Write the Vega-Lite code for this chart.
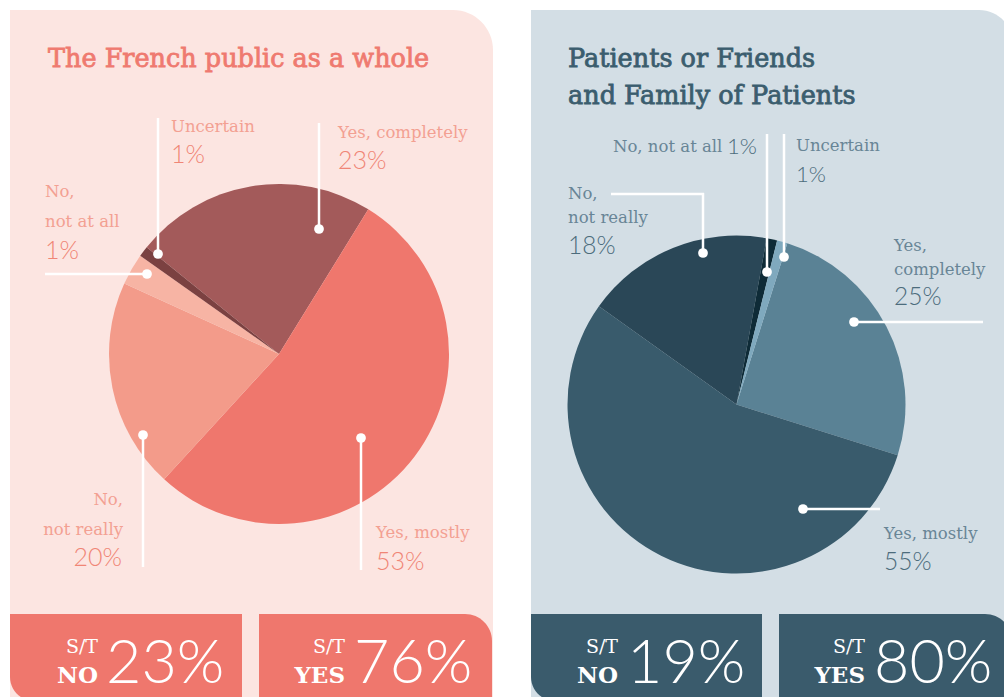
{
"$schema":"https://vega.github.io/schema/vega-lite/v6.json",
"width":1004,"height":697,
"autosize":{"type":"fit","contains":"padding"},
"padding":0,
"background":"white",
"config":{"view":{"stroke":null}},
"datasets":{
"one":[{}],
"slices":[
{"panel":"public","cat":"Yes, completely","value":23,"ord":1},
{"panel":"public","cat":"Yes, mostly","value":53,"ord":2},
{"panel":"public","cat":"No, not really","value":20,"ord":3},
{"panel":"public","cat":"No, not at all","value":3,"ord":4},
{"panel":"public","cat":"Uncertain","value":1,"ord":5},
{"panel":"patients","cat":"Yes, completely","value":25,"ord":1},
{"panel":"patients","cat":"Yes, mostly","value":55,"ord":2},
{"panel":"patients","cat":"No, not really","value":18,"ord":3},
{"panel":"patients","cat":"No, not at all","value":1,"ord":4},
{"panel":"patients","cat":"Uncertain","value":1,"ord":5}
]},
"data":{"name":"one"},
"resolve":{"scale":{"theta":"independent","color":"independent"}},
"layer":[
{"mark":{"type":"rect","fill":"#FCE5E1","cornerRadiusTopRight":40,"clip":true},"encoding":{"x":{"datum":10,"type":"quantitative","scale":{"domain":[0,1004],"nice":false,"zero":false},"axis":null},"x2":{"datum":493},"y":{"datum":10,"type":"quantitative","scale":{"domain":[0,697],"nice":false,"zero":false,"reverse":true},"axis":null},"y2":{"datum":697}}},
{"mark":{"type":"rect","fill":"#D3DEE5","cornerRadiusTopRight":34,"clip":true},"encoding":{"x":{"datum":531,"type":"quantitative","scale":{"domain":[0,1004],"nice":false,"zero":false},"axis":null},"x2":{"datum":1013},"y":{"datum":10,"type":"quantitative","scale":{"domain":[0,697],"nice":false,"zero":false,"reverse":true},"axis":null},"y2":{"datum":697}}},
{"mark":{"type":"rect","fill":"#EF776D","cornerRadiusBottomLeft":24,"clip":true},"encoding":{"x":{"datum":10,"type":"quantitative","scale":{"domain":[0,1004],"nice":false,"zero":false},"axis":null},"x2":{"datum":242},"y":{"datum":614,"type":"quantitative","scale":{"domain":[0,697],"nice":false,"zero":false,"reverse":true},"axis":null},"y2":{"datum":701}}},
{"mark":{"type":"rect","fill":"#EF776D","cornerRadiusTopRight":27,"clip":true},"encoding":{"x":{"datum":259,"type":"quantitative","scale":{"domain":[0,1004],"nice":false,"zero":false},"axis":null},"x2":{"datum":492},"y":{"datum":614,"type":"quantitative","scale":{"domain":[0,697],"nice":false,"zero":false,"reverse":true},"axis":null},"y2":{"datum":697}}},
{"mark":{"type":"rect","fill":"#3A5B6C","cornerRadiusBottomLeft":24,"clip":true},"encoding":{"x":{"datum":531,"type":"quantitative","scale":{"domain":[0,1004],"nice":false,"zero":false},"axis":null},"x2":{"datum":762},"y":{"datum":614,"type":"quantitative","scale":{"domain":[0,697],"nice":false,"zero":false,"reverse":true},"axis":null},"y2":{"datum":701}}},
{"mark":{"type":"rect","fill":"#3A5B6C","cornerRadiusTopRight":27,"clip":true},"encoding":{"x":{"datum":779,"type":"quantitative","scale":{"domain":[0,1004],"nice":false,"zero":false},"axis":null},"x2":{"datum":1012},"y":{"datum":614,"type":"quantitative","scale":{"domain":[0,697],"nice":false,"zero":false,"reverse":true},"axis":null},"y2":{"datum":697}}},
{"data":{"name":"slices"},"transform":[{"filter":"datum.panel === 'public'"}],"mark":{"type":"arc","radius":170},"encoding":{"x":{"datum":279,"type":"quantitative","scale":{"domain":[0,1004],"nice":false,"zero":false},"axis":null},"y":{"datum":354,"type":"quantitative","scale":{"domain":[0,697],"nice":false,"zero":false,"reverse":true},"axis":null},"theta":{"field":"value","type":"quantitative","stack":true,"scale":{"range":[-0.892,5.391]}},"color":{"field":"cat","type":"nominal","scale":{"domain":["Yes, completely","Yes, mostly","No, not really","No, not at all","Uncertain"],"range":["#A35A5A","#EF776D","#F39B8A","#F7B4A4","#7B4141"]},"legend":null},"order":{"field":"ord","type":"quantitative"}}},
{"data":{"name":"slices"},"transform":[{"filter":"datum.panel === 'patients'"}],"mark":{"type":"arc","radius":169},"encoding":{"x":{"datum":736.5,"type":"quantitative","scale":{"domain":[0,1004],"nice":false,"zero":false},"axis":null},"y":{"datum":404.5,"type":"quantitative","scale":{"domain":[0,697],"nice":false,"zero":false,"reverse":true},"axis":null},"theta":{"field":"value","type":"quantitative","stack":true,"scale":{"range":[0.3054,6.5886]}},"color":{"field":"cat","type":"nominal","scale":{"domain":["Yes, completely","Yes, mostly","No, not really","No, not at all","Uncertain"],"range":["#5A8295","#395B6C","#2A4757","#0E2B37","#7FA9BE"]},"legend":null},"order":{"field":"ord","type":"quantitative"}}},

{"mark":{"type":"rule","color":"white","strokeWidth":2.5},"encoding":{"x":{"datum":158,"type":"quantitative","scale":{"domain":[0,1004],"nice":false,"zero":false},"axis":null},"y":{"datum":118,"type":"quantitative","scale":{"domain":[0,697],"nice":false,"zero":false,"reverse":true},"axis":null},"y2":{"datum":254}}},
{"mark":{"type":"rule","color":"white","strokeWidth":2.5},"encoding":{"x":{"datum":319,"type":"quantitative","scale":{"domain":[0,1004],"nice":false,"zero":false},"axis":null},"y":{"datum":123,"type":"quantitative","scale":{"domain":[0,697],"nice":false,"zero":false,"reverse":true},"axis":null},"y2":{"datum":229}}},
{"mark":{"type":"rule","color":"white","strokeWidth":2.5},"encoding":{"x":{"datum":45,"type":"quantitative","scale":{"domain":[0,1004],"nice":false,"zero":false},"axis":null},"x2":{"datum":147},"y":{"datum":274,"type":"quantitative","scale":{"domain":[0,697],"nice":false,"zero":false,"reverse":true},"axis":null}}},
{"mark":{"type":"rule","color":"white","strokeWidth":2.5},"encoding":{"x":{"datum":143,"type":"quantitative","scale":{"domain":[0,1004],"nice":false,"zero":false},"axis":null},"y":{"datum":435,"type":"quantitative","scale":{"domain":[0,697],"nice":false,"zero":false,"reverse":true},"axis":null},"y2":{"datum":567}}},
{"mark":{"type":"rule","color":"white","strokeWidth":2.5},"encoding":{"x":{"datum":361,"type":"quantitative","scale":{"domain":[0,1004],"nice":false,"zero":false},"axis":null},"y":{"datum":438,"type":"quantitative","scale":{"domain":[0,697],"nice":false,"zero":false,"reverse":true},"axis":null},"y2":{"datum":570}}},
{"mark":{"type":"rule","color":"white","strokeWidth":2.5},"encoding":{"x":{"datum":767,"type":"quantitative","scale":{"domain":[0,1004],"nice":false,"zero":false},"axis":null},"y":{"datum":134,"type":"quantitative","scale":{"domain":[0,697],"nice":false,"zero":false,"reverse":true},"axis":null},"y2":{"datum":272}}},
{"mark":{"type":"rule","color":"white","strokeWidth":2.5},"encoding":{"x":{"datum":784,"type":"quantitative","scale":{"domain":[0,1004],"nice":false,"zero":false},"axis":null},"y":{"datum":134,"type":"quantitative","scale":{"domain":[0,697],"nice":false,"zero":false,"reverse":true},"axis":null},"y2":{"datum":257}}},
{"mark":{"type":"rule","color":"white","strokeWidth":2.5},"encoding":{"x":{"datum":611,"type":"quantitative","scale":{"domain":[0,1004],"nice":false,"zero":false},"axis":null},"x2":{"datum":704},"y":{"datum":194,"type":"quantitative","scale":{"domain":[0,697],"nice":false,"zero":false,"reverse":true},"axis":null}}},
{"mark":{"type":"rule","color":"white","strokeWidth":2.5},"encoding":{"x":{"datum":703,"type":"quantitative","scale":{"domain":[0,1004],"nice":false,"zero":false},"axis":null},"y":{"datum":193,"type":"quantitative","scale":{"domain":[0,697],"nice":false,"zero":false,"reverse":true},"axis":null},"y2":{"datum":253}}},
{"mark":{"type":"rule","color":"white","strokeWidth":2.5},"encoding":{"x":{"datum":854,"type":"quantitative","scale":{"domain":[0,1004],"nice":false,"zero":false},"axis":null},"x2":{"datum":983},"y":{"datum":322,"type":"quantitative","scale":{"domain":[0,697],"nice":false,"zero":false,"reverse":true},"axis":null}}},
{"mark":{"type":"rule","color":"white","strokeWidth":2.5},"encoding":{"x":{"datum":803,"type":"quantitative","scale":{"domain":[0,1004],"nice":false,"zero":false},"axis":null},"x2":{"datum":880},"y":{"datum":509,"type":"quantitative","scale":{"domain":[0,697],"nice":false,"zero":false,"reverse":true},"axis":null}}},

{"mark":{"type":"point","filled":true,"color":"white","opacity":1,"size":95},"encoding":{"x":{"datum":158,"type":"quantitative","scale":{"domain":[0,1004],"nice":false,"zero":false},"axis":null},"y":{"datum":254,"type":"quantitative","scale":{"domain":[0,697],"nice":false,"zero":false,"reverse":true},"axis":null}}},
{"mark":{"type":"point","filled":true,"color":"white","opacity":1,"size":95},"encoding":{"x":{"datum":319,"type":"quantitative","scale":{"domain":[0,1004],"nice":false,"zero":false},"axis":null},"y":{"datum":229,"type":"quantitative","scale":{"domain":[0,697],"nice":false,"zero":false,"reverse":true},"axis":null}}},
{"mark":{"type":"point","filled":true,"color":"white","opacity":1,"size":95},"encoding":{"x":{"datum":147,"type":"quantitative","scale":{"domain":[0,1004],"nice":false,"zero":false},"axis":null},"y":{"datum":274,"type":"quantitative","scale":{"domain":[0,697],"nice":false,"zero":false,"reverse":true},"axis":null}}},
{"mark":{"type":"point","filled":true,"color":"white","opacity":1,"size":95},"encoding":{"x":{"datum":143,"type":"quantitative","scale":{"domain":[0,1004],"nice":false,"zero":false},"axis":null},"y":{"datum":435,"type":"quantitative","scale":{"domain":[0,697],"nice":false,"zero":false,"reverse":true},"axis":null}}},
{"mark":{"type":"point","filled":true,"color":"white","opacity":1,"size":95},"encoding":{"x":{"datum":361,"type":"quantitative","scale":{"domain":[0,1004],"nice":false,"zero":false},"axis":null},"y":{"datum":438,"type":"quantitative","scale":{"domain":[0,697],"nice":false,"zero":false,"reverse":true},"axis":null}}},
{"mark":{"type":"point","filled":true,"color":"white","opacity":1,"size":95},"encoding":{"x":{"datum":767,"type":"quantitative","scale":{"domain":[0,1004],"nice":false,"zero":false},"axis":null},"y":{"datum":272,"type":"quantitative","scale":{"domain":[0,697],"nice":false,"zero":false,"reverse":true},"axis":null}}},
{"mark":{"type":"point","filled":true,"color":"white","opacity":1,"size":95},"encoding":{"x":{"datum":784,"type":"quantitative","scale":{"domain":[0,1004],"nice":false,"zero":false},"axis":null},"y":{"datum":257,"type":"quantitative","scale":{"domain":[0,697],"nice":false,"zero":false,"reverse":true},"axis":null}}},
{"mark":{"type":"point","filled":true,"color":"white","opacity":1,"size":95},"encoding":{"x":{"datum":703,"type":"quantitative","scale":{"domain":[0,1004],"nice":false,"zero":false},"axis":null},"y":{"datum":253,"type":"quantitative","scale":{"domain":[0,697],"nice":false,"zero":false,"reverse":true},"axis":null}}},
{"mark":{"type":"point","filled":true,"color":"white","opacity":1,"size":95},"encoding":{"x":{"datum":854,"type":"quantitative","scale":{"domain":[0,1004],"nice":false,"zero":false},"axis":null},"y":{"datum":322,"type":"quantitative","scale":{"domain":[0,697],"nice":false,"zero":false,"reverse":true},"axis":null}}},
{"mark":{"type":"point","filled":true,"color":"white","opacity":1,"size":95},"encoding":{"x":{"datum":803,"type":"quantitative","scale":{"domain":[0,1004],"nice":false,"zero":false},"axis":null},"y":{"datum":509,"type":"quantitative","scale":{"domain":[0,697],"nice":false,"zero":false,"reverse":true},"axis":null}}},

{"mark":{"type":"text","font":"DejaVu Serif","fontSize":25.5,"fill":"#EF7A70","stroke":"#EF7A70","strokeWidth":0.8,"align":"left","baseline":"alphabetic"},"encoding":{"x":{"datum":48,"type":"quantitative","scale":{"domain":[0,1004],"nice":false,"zero":false},"axis":null},"y":{"datum":67,"type":"quantitative","scale":{"domain":[0,697],"nice":false,"zero":false,"reverse":true},"axis":null},"text":{"value":"The French public as a whole"}}},
{"mark":{"type":"text","font":"DejaVu Serif","fontSize":25.5,"fill":"#3B5D6E","stroke":"#3B5D6E","strokeWidth":0.8,"align":"left","baseline":"alphabetic","lineHeight":37},"encoding":{"x":{"datum":568,"type":"quantitative","scale":{"domain":[0,1004],"nice":false,"zero":false},"axis":null},"y":{"datum":67,"type":"quantitative","scale":{"domain":[0,697],"nice":false,"zero":false,"reverse":true},"axis":null},"text":{"value":["Patients or Friends","and Family of Patients"]}}},

{"mark":{"type":"text","font":"DejaVu Serif","fontSize":16.5,"fill":"#F3A092","align":"left","baseline":"alphabetic"},"encoding":{"x":{"datum":171,"type":"quantitative","scale":{"domain":[0,1004],"nice":false,"zero":false},"axis":null},"y":{"datum":132,"type":"quantitative","scale":{"domain":[0,697],"nice":false,"zero":false,"reverse":true},"axis":null},"text":{"value":"Uncertain"}}},
{"mark":{"type":"text","font":"Lato","fontWeight":300,"fontSize":25,"fill":"#F08576","align":"left","baseline":"alphabetic"},"encoding":{"x":{"datum":171,"type":"quantitative","scale":{"domain":[0,1004],"nice":false,"zero":false},"axis":null},"y":{"datum":163,"type":"quantitative","scale":{"domain":[0,697],"nice":false,"zero":false,"reverse":true},"axis":null},"text":{"value":"1%"}}},
{"mark":{"type":"text","font":"DejaVu Serif","fontSize":16.5,"fill":"#F3A092","align":"left","baseline":"alphabetic"},"encoding":{"x":{"datum":338,"type":"quantitative","scale":{"domain":[0,1004],"nice":false,"zero":false},"axis":null},"y":{"datum":138,"type":"quantitative","scale":{"domain":[0,697],"nice":false,"zero":false,"reverse":true},"axis":null},"text":{"value":"Yes, completely"}}},
{"mark":{"type":"text","font":"Lato","fontWeight":300,"fontSize":25,"fill":"#F08576","align":"left","baseline":"alphabetic"},"encoding":{"x":{"datum":338,"type":"quantitative","scale":{"domain":[0,1004],"nice":false,"zero":false},"axis":null},"y":{"datum":169,"type":"quantitative","scale":{"domain":[0,697],"nice":false,"zero":false,"reverse":true},"axis":null},"text":{"value":"23%"}}},
{"mark":{"type":"text","font":"DejaVu Serif","fontSize":16.5,"fill":"#F3A092","align":"left","baseline":"alphabetic","lineHeight":30},"encoding":{"x":{"datum":45,"type":"quantitative","scale":{"domain":[0,1004],"nice":false,"zero":false},"axis":null},"y":{"datum":197,"type":"quantitative","scale":{"domain":[0,697],"nice":false,"zero":false,"reverse":true},"axis":null},"text":{"value":["No,","not at all"]}}},
{"mark":{"type":"text","font":"Lato","fontWeight":300,"fontSize":25,"fill":"#F08576","align":"left","baseline":"alphabetic"},"encoding":{"x":{"datum":45,"type":"quantitative","scale":{"domain":[0,1004],"nice":false,"zero":false},"axis":null},"y":{"datum":259,"type":"quantitative","scale":{"domain":[0,697],"nice":false,"zero":false,"reverse":true},"axis":null},"text":{"value":"1%"}}},
{"mark":{"type":"text","font":"DejaVu Serif","fontSize":16.5,"fill":"#F3A092","align":"right","baseline":"alphabetic","lineHeight":29.5},"encoding":{"x":{"datum":123,"type":"quantitative","scale":{"domain":[0,1004],"nice":false,"zero":false},"axis":null},"y":{"datum":505,"type":"quantitative","scale":{"domain":[0,697],"nice":false,"zero":false,"reverse":true},"axis":null},"text":{"value":["No,","not really"]}}},
{"mark":{"type":"text","font":"Lato","fontWeight":300,"fontSize":25,"fill":"#F08576","align":"right","baseline":"alphabetic"},"encoding":{"x":{"datum":122,"type":"quantitative","scale":{"domain":[0,1004],"nice":false,"zero":false},"axis":null},"y":{"datum":566,"type":"quantitative","scale":{"domain":[0,697],"nice":false,"zero":false,"reverse":true},"axis":null},"text":{"value":"20%"}}},
{"mark":{"type":"text","font":"DejaVu Serif","fontSize":16.5,"fill":"#F3A092","align":"left","baseline":"alphabetic"},"encoding":{"x":{"datum":376,"type":"quantitative","scale":{"domain":[0,1004],"nice":false,"zero":false},"axis":null},"y":{"datum":538,"type":"quantitative","scale":{"domain":[0,697],"nice":false,"zero":false,"reverse":true},"axis":null},"text":{"value":"Yes, mostly"}}},
{"mark":{"type":"text","font":"Lato","fontWeight":300,"fontSize":25,"fill":"#F08576","align":"left","baseline":"alphabetic"},"encoding":{"x":{"datum":376,"type":"quantitative","scale":{"domain":[0,1004],"nice":false,"zero":false},"axis":null},"y":{"datum":570,"type":"quantitative","scale":{"domain":[0,697],"nice":false,"zero":false,"reverse":true},"axis":null},"text":{"value":"53%"}}},

{"mark":{"type":"text","font":"DejaVu Serif","fontSize":16.5,"fill":"#688596","align":"left","baseline":"alphabetic"},"encoding":{"x":{"datum":613,"type":"quantitative","scale":{"domain":[0,1004],"nice":false,"zero":false},"axis":null},"y":{"datum":152,"type":"quantitative","scale":{"domain":[0,697],"nice":false,"zero":false,"reverse":true},"axis":null},"text":{"value":"No, not at all"}}},
{"mark":{"type":"text","font":"Lato","fontWeight":300,"fontSize":22,"fill":"#4C6C7C","align":"left","baseline":"alphabetic"},"encoding":{"x":{"datum":727,"type":"quantitative","scale":{"domain":[0,1004],"nice":false,"zero":false},"axis":null},"y":{"datum":154,"type":"quantitative","scale":{"domain":[0,697],"nice":false,"zero":false,"reverse":true},"axis":null},"text":{"value":"1%"}}},
{"mark":{"type":"text","font":"DejaVu Serif","fontSize":16.5,"fill":"#688596","align":"left","baseline":"alphabetic"},"encoding":{"x":{"datum":796,"type":"quantitative","scale":{"domain":[0,1004],"nice":false,"zero":false},"axis":null},"y":{"datum":151,"type":"quantitative","scale":{"domain":[0,697],"nice":false,"zero":false,"reverse":true},"axis":null},"text":{"value":"Uncertain"}}},
{"mark":{"type":"text","font":"Lato","fontWeight":300,"fontSize":22,"fill":"#4C6C7C","align":"left","baseline":"alphabetic"},"encoding":{"x":{"datum":796,"type":"quantitative","scale":{"domain":[0,1004],"nice":false,"zero":false},"axis":null},"y":{"datum":182,"type":"quantitative","scale":{"domain":[0,697],"nice":false,"zero":false,"reverse":true},"axis":null},"text":{"value":"1%"}}},
{"mark":{"type":"text","font":"DejaVu Serif","fontSize":16.5,"fill":"#688596","align":"left","baseline":"alphabetic","lineHeight":23.5},"encoding":{"x":{"datum":568,"type":"quantitative","scale":{"domain":[0,1004],"nice":false,"zero":false},"axis":null},"y":{"datum":199,"type":"quantitative","scale":{"domain":[0,697],"nice":false,"zero":false,"reverse":true},"axis":null},"text":{"value":["No,","not really"]}}},
{"mark":{"type":"text","font":"Lato","fontWeight":300,"fontSize":24.5,"fill":"#4C6C7C","align":"left","baseline":"alphabetic"},"encoding":{"x":{"datum":568,"type":"quantitative","scale":{"domain":[0,1004],"nice":false,"zero":false},"axis":null},"y":{"datum":254,"type":"quantitative","scale":{"domain":[0,697],"nice":false,"zero":false,"reverse":true},"axis":null},"text":{"value":"18%"}}},
{"mark":{"type":"text","font":"DejaVu Serif","fontSize":16.5,"fill":"#688596","align":"left","baseline":"alphabetic","lineHeight":24},"encoding":{"x":{"datum":894,"type":"quantitative","scale":{"domain":[0,1004],"nice":false,"zero":false},"axis":null},"y":{"datum":251,"type":"quantitative","scale":{"domain":[0,697],"nice":false,"zero":false,"reverse":true},"axis":null},"text":{"value":["Yes,","completely"]}}},
{"mark":{"type":"text","font":"Lato","fontWeight":300,"fontSize":24.5,"fill":"#4C6C7C","align":"left","baseline":"alphabetic"},"encoding":{"x":{"datum":894,"type":"quantitative","scale":{"domain":[0,1004],"nice":false,"zero":false},"axis":null},"y":{"datum":305,"type":"quantitative","scale":{"domain":[0,697],"nice":false,"zero":false,"reverse":true},"axis":null},"text":{"value":"25%"}}},
{"mark":{"type":"text","font":"DejaVu Serif","fontSize":16.5,"fill":"#688596","align":"left","baseline":"alphabetic"},"encoding":{"x":{"datum":884,"type":"quantitative","scale":{"domain":[0,1004],"nice":false,"zero":false},"axis":null},"y":{"datum":539,"type":"quantitative","scale":{"domain":[0,697],"nice":false,"zero":false,"reverse":true},"axis":null},"text":{"value":"Yes, mostly"}}},
{"mark":{"type":"text","font":"Lato","fontWeight":300,"fontSize":24.5,"fill":"#4C6C7C","align":"left","baseline":"alphabetic"},"encoding":{"x":{"datum":884,"type":"quantitative","scale":{"domain":[0,1004],"nice":false,"zero":false},"axis":null},"y":{"datum":570,"type":"quantitative","scale":{"domain":[0,697],"nice":false,"zero":false,"reverse":true},"axis":null},"text":{"value":"55%"}}},

{"mark":{"type":"text","font":"DejaVu Serif","fontSize":19,"fill":"white","align":"right","baseline":"alphabetic"},"encoding":{"x":{"datum":98,"type":"quantitative","scale":{"domain":[0,1004],"nice":false,"zero":false},"axis":null},"y":{"datum":653,"type":"quantitative","scale":{"domain":[0,697],"nice":false,"zero":false,"reverse":true},"axis":null},"text":{"value":"S/T"}}},
{"mark":{"type":"text","font":"DejaVu Serif","fontWeight":"bold","fontSize":23,"fill":"white","align":"right","baseline":"alphabetic"},"encoding":{"x":{"datum":98,"type":"quantitative","scale":{"domain":[0,1004],"nice":false,"zero":false},"axis":null},"y":{"datum":683,"type":"quantitative","scale":{"domain":[0,697],"nice":false,"zero":false,"reverse":true},"axis":null},"text":{"value":"NO"}}},
{"mark":{"type":"text","font":"Lato","fontWeight":300,"fontSize":61,"fill":"white","align":"left","baseline":"alphabetic"},"encoding":{"x":{"datum":106,"type":"quantitative","scale":{"domain":[0,1004],"nice":false,"zero":false},"axis":null},"y":{"datum":683,"type":"quantitative","scale":{"domain":[0,697],"nice":false,"zero":false,"reverse":true},"axis":null},"text":{"value":"23%"}}},
{"mark":{"type":"text","font":"DejaVu Serif","fontSize":19,"fill":"white","align":"right","baseline":"alphabetic"},"encoding":{"x":{"datum":345,"type":"quantitative","scale":{"domain":[0,1004],"nice":false,"zero":false},"axis":null},"y":{"datum":653,"type":"quantitative","scale":{"domain":[0,697],"nice":false,"zero":false,"reverse":true},"axis":null},"text":{"value":"S/T"}}},
{"mark":{"type":"text","font":"DejaVu Serif","fontWeight":"bold","fontSize":23,"fill":"white","align":"right","baseline":"alphabetic"},"encoding":{"x":{"datum":345,"type":"quantitative","scale":{"domain":[0,1004],"nice":false,"zero":false},"axis":null},"y":{"datum":683,"type":"quantitative","scale":{"domain":[0,697],"nice":false,"zero":false,"reverse":true},"axis":null},"text":{"value":"YES"}}},
{"mark":{"type":"text","font":"Lato","fontWeight":300,"fontSize":61,"fill":"white","align":"left","baseline":"alphabetic"},"encoding":{"x":{"datum":354,"type":"quantitative","scale":{"domain":[0,1004],"nice":false,"zero":false},"axis":null},"y":{"datum":683,"type":"quantitative","scale":{"domain":[0,697],"nice":false,"zero":false,"reverse":true},"axis":null},"text":{"value":"76%"}}},
{"mark":{"type":"text","font":"DejaVu Serif","fontSize":19,"fill":"white","align":"right","baseline":"alphabetic"},"encoding":{"x":{"datum":618,"type":"quantitative","scale":{"domain":[0,1004],"nice":false,"zero":false},"axis":null},"y":{"datum":653,"type":"quantitative","scale":{"domain":[0,697],"nice":false,"zero":false,"reverse":true},"axis":null},"text":{"value":"S/T"}}},
{"mark":{"type":"text","font":"DejaVu Serif","fontWeight":"bold","fontSize":23,"fill":"white","align":"right","baseline":"alphabetic"},"encoding":{"x":{"datum":618,"type":"quantitative","scale":{"domain":[0,1004],"nice":false,"zero":false},"axis":null},"y":{"datum":683,"type":"quantitative","scale":{"domain":[0,697],"nice":false,"zero":false,"reverse":true},"axis":null},"text":{"value":"NO"}}},
{"mark":{"type":"text","font":"Lato","fontWeight":300,"fontSize":61,"fill":"white","align":"left","baseline":"alphabetic"},"encoding":{"x":{"datum":627,"type":"quantitative","scale":{"domain":[0,1004],"nice":false,"zero":false},"axis":null},"y":{"datum":683,"type":"quantitative","scale":{"domain":[0,697],"nice":false,"zero":false,"reverse":true},"axis":null},"text":{"value":"19%"}}},
{"mark":{"type":"text","font":"DejaVu Serif","fontSize":19,"fill":"white","align":"right","baseline":"alphabetic"},"encoding":{"x":{"datum":865,"type":"quantitative","scale":{"domain":[0,1004],"nice":false,"zero":false},"axis":null},"y":{"datum":653,"type":"quantitative","scale":{"domain":[0,697],"nice":false,"zero":false,"reverse":true},"axis":null},"text":{"value":"S/T"}}},
{"mark":{"type":"text","font":"DejaVu Serif","fontWeight":"bold","fontSize":23,"fill":"white","align":"right","baseline":"alphabetic"},"encoding":{"x":{"datum":865,"type":"quantitative","scale":{"domain":[0,1004],"nice":false,"zero":false},"axis":null},"y":{"datum":683,"type":"quantitative","scale":{"domain":[0,697],"nice":false,"zero":false,"reverse":true},"axis":null},"text":{"value":"YES"}}},
{"mark":{"type":"text","font":"Lato","fontWeight":300,"fontSize":61,"fill":"white","align":"left","baseline":"alphabetic"},"encoding":{"x":{"datum":874,"type":"quantitative","scale":{"domain":[0,1004],"nice":false,"zero":false},"axis":null},"y":{"datum":683,"type":"quantitative","scale":{"domain":[0,697],"nice":false,"zero":false,"reverse":true},"axis":null},"text":{"value":"80%"}}}
]
}
